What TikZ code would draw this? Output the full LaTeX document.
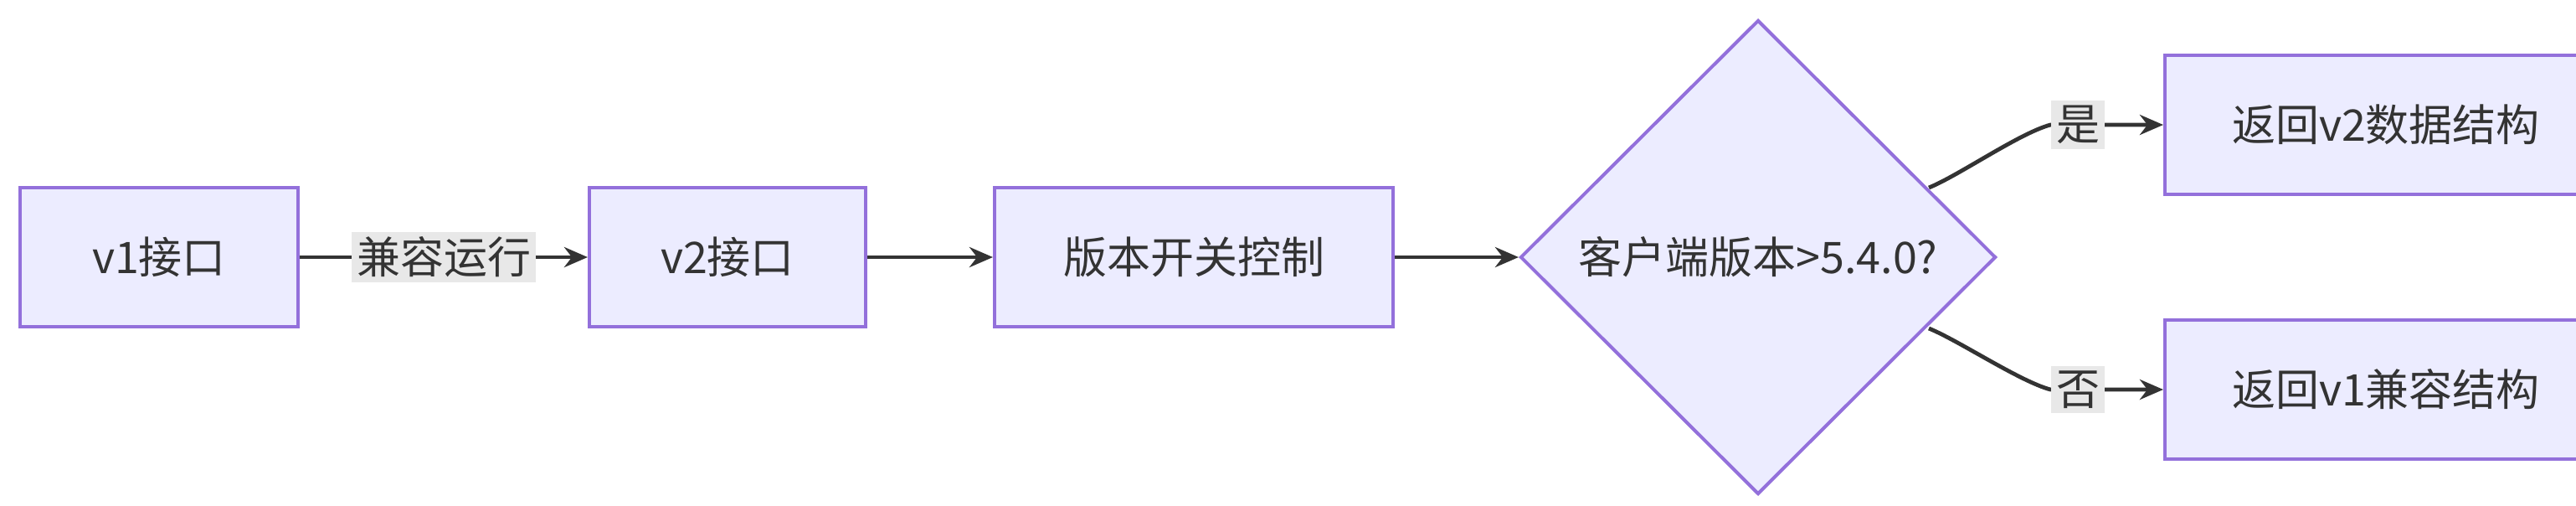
\documentclass[tikz,border=0pt]{standalone}
\usepackage{fontspec}
\setmainfont{Noto Sans CJK SC}
\usetikzlibrary{shapes.geometric,arrows.meta}
\definecolor{nfill}{HTML}{ECECFF}
\definecolor{nline}{HTML}{9370DB}
\definecolor{lbl}{HTML}{E8E8E8}
\definecolor{ed}{HTML}{333333}
\begin{document}
\begin{tikzpicture}[x=0.5pt,y=-0.5pt,font=\fontsize{13pt}{15pt}\selectfont,
 box/.style={draw=nline,fill=nfill,line width=1pt,inner sep=0,text=ed},
 edge/.style={draw=ed,line width=1.2pt,-{Stealth[length=7pt,width=6pt]}},
 elab/.style={fill=lbl,inner sep=1.5pt,text=ed}]
\useasboundingbox (0,0) rectangle (1538.5,301.5);
\node[box,minimum width=83pt,minimum height=41.5pt] (v1) at (95,153.5) {v1接口};
\node[box,minimum width=82.5pt,minimum height=41.5pt] (v2) at (434.5,153.5) {v2接口};
\node[box,minimum width=119pt,minimum height=41.5pt] (sw) at (713,153.5) {版本开关控制};
\node[box,diamond,minimum width=142pt,minimum height=141.5pt] (d) at (1050,153.5) {客户端版本>5.4.0?};
\node[box,minimum width=132pt,minimum height=41.5pt] (r2) at (1425,74.5) {返回v2数据结构};
\node[box,minimum width=132pt,minimum height=41.5pt] (r1) at (1425,232.5) {返回v1兼容结构};
\draw[edge] (v1) -- node[elab]{兼容运行} (v2);
\draw[edge] (v2) -- (sw);
\draw[edge] (sw) -- (d);
\node[elab] (ly) at (1241,74.5) {是};
\node[elab] (ln) at (1241,232.5) {否};
\coordinate (dt) at (1152,112);
\coordinate (db) at (1152,196);
\draw[edge] (dt) to[out=22,in=195,looseness=0.6] (ly.west) -- (ly.east) to[out=0,in=180] (r2);
\draw[edge] (db) to[out=-22,in=165,looseness=0.6] (ln.west) -- (ln.east) to[out=0,in=180] (r1);
\node[elab] at (1241,74.5) {是};
\node[elab] at (1241,232.5) {否};
\end{tikzpicture}
\end{document}
